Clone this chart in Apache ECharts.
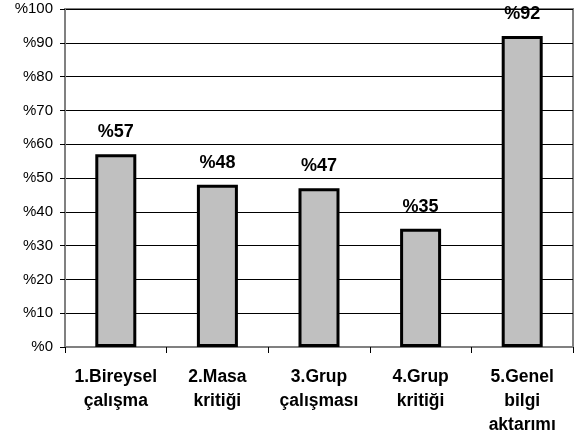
<!DOCTYPE html>
<html><head><meta charset="utf-8">
<script src="https://cdn.jsdelivr.net/npm/echarts@6/dist/echarts.min.js"></script>
<style>html,body{margin:0;padding:0;background:#fff}#c{width:574px;height:441px}</style>
</head><body><div id="c"></div>
<script>
const categories = ["1.Bireysel\nçalışma", "2.Masa\nkritiği", "3.Grup\nçalışması", "4.Grup\nkritiği", "5.Genel\nbilgi\naktarımı"];
const values = [57, 48, 47, 35, 92];
const yTicks = [0, 10, 20, 30, 40, 50, 60, 70, 80, 90, 100];

const chart = echarts.init(document.getElementById('c'), null, {renderer: 'canvas'});
chart.setOption({
  animation: false,
  grid: {left: 65, right: 1, top: 9, bottom: 94, show: true, borderColor: '#808080', borderWidth: 2, containLabel: false},
  xAxis: {
    type: 'category', data: categories,
    axisLine: {lineStyle: {color: '#808080', width: 2}},
    axisTick: {show: true, length: 6, lineStyle: {color: '#000', width: 1}},
    axisLabel: {color: '#000', fontFamily: 'Liberation Sans, Arial, sans-serif', fontWeight: 'bold', fontSize: 17.5, lineHeight: 24, margin: 18, interval: 0}
  },
  yAxis: {
    type: 'value', min: yTicks[0], max: yTicks[yTicks.length - 1], interval: 10,
    axisLine: {show: true, lineStyle: {color: '#808080', width: 2}},
    axisTick: {show: true, length: 5, lineStyle: {color: '#000', width: 1}},
    splitLine: {show: true, lineStyle: {color: '#000', width: 1}},
    axisLabel: {color: '#000', fontFamily: 'Liberation Sans, Arial, sans-serif', fontSize: 15, margin: 12, formatter: v => '%' + v}
  },
  series: [{
    type: 'bar', data: values, barWidth: 41,
    itemStyle: {color: '#c0c0c0', borderColor: '#000', borderWidth: 3},
    label: {show: true, position: 'top', distance: 13, color: '#000', fontFamily: 'Liberation Sans, Arial, sans-serif', fontWeight: 'bold', fontSize: 18, formatter: p => '%' + p.value}
  }]
});
</script></body></html>
